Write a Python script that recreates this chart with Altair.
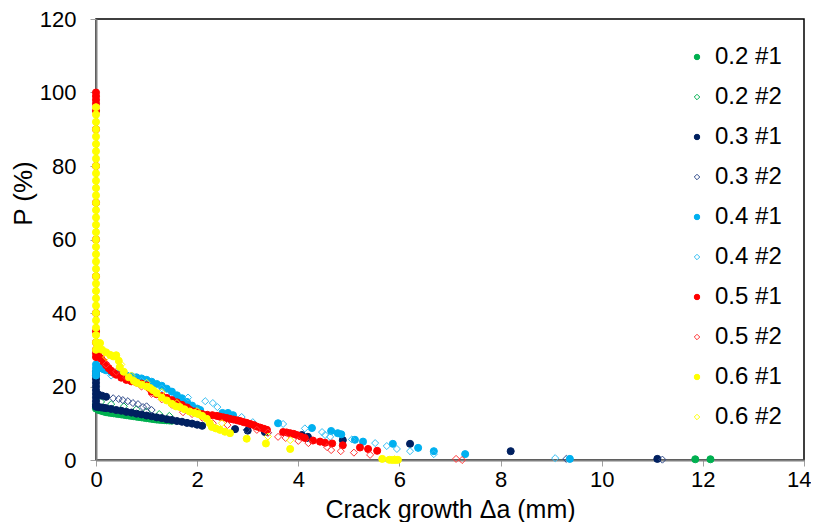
import altair as alt
import pandas as pd

series_names = ["0.2 #1", "0.2 #2", "0.3 #1", "0.3 #2", "0.4 #1", "0.4 #2",
                "0.5 #1", "0.5 #2", "0.6 #1", "0.6 #2"]
colors = ["#00B050", "#00B050", "#002060", "#2F4A8A", "#00B0F0", "#33BDF2",
          "#FF0000", "#FF3333", "#FFFF00", "#FFFF00"]
fills = ["#00B050", "transparent", "#002060", "transparent", "#00B0F0", "transparent",
         "#FF0000", "transparent", "#FFFF00", "transparent"]
shapes = ["circle", "diamond", "circle", "diamond", "circle", "diamond",
          "circle", "diamond", "circle", "diamond"]

x_ticks = [0, 2, 4, 6, 8, 10, 12, 14]
y_ticks = [0, 20, 40, 60, 80, 100, 120]

# 0.2 #1
x_02_1 = [0, 0, 0.05, 0.1, 0.15, 0.2, 0.25, 0.3, 0.35, 0.4, 0.45, 0.5, 0.55, 0.6, 0.65, 0.7,
          0.75, 0.8, 0.85, 0.9, 0.95, 1.0, 1.05, 1.1, 1.15, 1.2, 1.25, 1.3, 1.35, 1.4, 1.45, 1.5,
          11.85, 12.15]
y_02_1 = [15.0, 14.0, 13.6, 13.4, 13.2, 13.0, 12.9, 12.8, 12.7, 12.6, 12.5, 12.4, 12.3, 12.2, 12.1, 12.0,
          11.9, 11.8, 11.7, 11.6, 11.5, 11.4, 11.3, 11.2, 11.1, 11.0, 10.95, 10.9, 10.85, 10.8, 10.75, 10.7,
          0.2, 0.2]
# 0.2 #2
x_02_2 = [0.1, 0.3, 0.55, 0.8, 1.0, 1.25, 1.45]
y_02_2 = [15.8, 15.2, 14.6, 13.8, 13.2, 12.5, 12.0]
# 0.3 #1
x_03_1 = [0, 0, 0, 0, 0, 0, 0, 0, 0, 0, 0,
          0.05, 0.12, 0.2,
          0.05, 0.1, 0.15, 0.2, 0.3, 0.4, 0.5, 0.6, 0.7, 0.8, 0.9, 1.0, 1.1, 1.2, 1.3, 1.4,
          1.5, 1.6, 1.7, 1.8, 1.9, 2.0, 2.1,
          2.75, 3.0, 3.34, 4.07, 4.17, 4.19, 4.88, 6.21, 8.2, 11.1]
y_03_1 = [24, 23, 22, 21, 20, 19, 18, 17, 16, 15, 14.5,
          17.8, 17.5, 17.2,
          14.4, 14.3, 14.2, 14.1, 13.9, 13.6, 13.4, 13.1, 12.9, 12.6, 12.4, 12.1, 11.9, 11.6, 11.4, 11.1,
          10.9, 10.6, 10.4, 10.1, 9.9, 9.6, 9.3,
          8.4, 8.0, 7.6, 6.8, 6.0, 6.3, 5.4, 4.4, 2.4, 0.3]
# 0.3 #2
x_03_2 = [0.34, 0.45, 0.53, 0.63, 0.73, 0.83, 0.93, 1.0, 1.1, 2.98, 3.4, 9.3, 11.2]
y_03_2 = [16.8, 16.6, 16.3, 16.0, 15.5, 15.2, 14.4, 14.6, 13.6, 8.2, 7.4, 0.3, 0.1]
# 0.4 #1
x_04_1 = [0, 0, 0, 0, 0.05, 0.1, 0.15, 0.2, 0.3, 0.4, 0.5, 0.6, 0.7, 0.8, 0.9, 1.0, 1.1, 1.2,
          1.3, 1.4, 1.5, 1.6, 1.7, 1.8, 1.9, 2.0, 2.06, 2.5, 2.61, 2.71, 3.6, 4.27, 4.65, 4.78,
          4.85, 5.12, 5.28, 5.87, 6.37, 6.68, 7.3, 9.37]
y_04_1 = [23, 24, 25, 26, 25.3, 25.0, 24.7, 24.4, 23.9, 23.5, 23.2, 23.0, 22.8, 22.5, 22.2, 21.8, 21.3, 20.7,
          20.2, 19.4, 18.6, 17.6, 16.8, 15.8, 14.8, 14.0, 13.6, 12.8, 12.8, 12.2, 10.0, 8.7, 7.9, 7.3,
          7.0, 5.5, 5.0, 4.4, 3.3, 2.4, 1.6, 0.3]
# 0.4 #2
x_04_2 = [0.3, 0.6, 0.9, 1.3, 1.82, 2.16, 2.31, 2.4, 2.88, 3.1, 3.7, 4.13, 4.47, 4.53, 4.63, 5.06,
          5.52, 5.75, 5.95, 6.21, 6.68, 9.08]
y_04_2 = [23.0, 22.0, 21.5, 19.5, 17.0, 16.0, 15.5, 14.4, 11.7, 10.3, 9.8, 8.6, 7.6, 6.8, 6.3, 5.6,
          4.6, 3.8, 3.0, 2.4, 1.6, 0.5]
# 0.5 #1
x_05_1 = [0, 0, 0, 0, 0, 0, 0, 0, 0, 0, 0, 0, 0, 0, 0, 0,
          0.05, 0.1, 0.15, 0.2, 0.25, 0.3, 0.35, 0.4, 0.5, 0.6, 0.7, 0.8, 0.9, 1.0, 1.05, 1.1,
          1.2, 1.3, 1.4, 1.5, 1.6, 1.7, 1.8, 1.86, 1.95, 2.02, 2.1, 2.2, 2.3, 2.39, 2.45, 2.52,
          2.59, 2.65, 2.72, 2.79, 2.85, 2.92, 2.98, 3.05, 3.12, 3.18, 3.25, 3.32, 3.38, 3.7,
          3.77, 3.84, 3.91, 3.97, 4.05, 4.13, 4.29, 4.43, 4.53, 4.67, 4.88, 5.22, 5.38, 5.56]
y_05_1 = [28, 29, 30, 32, 35, 40, 50, 60, 70, 80, 90, 95, 97, 98, 99, 100,
          28.5, 27.6, 26.7, 25.8, 25.0, 24.3, 23.7, 23.2, 22.4, 21.8, 21.4, 21.1, 20.8, 20.3, 19.6, 18.6,
          17.9, 17.4, 16.9, 16.3, 15.7, 15.0, 14.3, 13.6, 13.2, 12.8, 12.5, 12.3, 12.2, 12.0, 11.8, 11.6,
          11.4, 11.2, 11.0, 10.8, 10.6, 10.3, 10.1, 9.8, 9.5, 9.1, 8.8, 8.5, 8.2, 7.6,
          7.5, 7.3, 7.1, 6.8, 6.4, 6.0, 5.3, 5.0, 4.7, 4.5, 4.0, 3.4, 3.0, 2.5]
# 0.5 #2
x_05_2 = [0.2, 0.4, 0.6, 0.9, 1.1, 1.3, 1.5, 1.72, 1.9, 2.1, 2.31, 2.6, 3.18, 3.4, 3.6, 3.75,
          4.0, 4.2, 4.57, 4.65, 4.84, 5.1, 5.42, 7.12, 7.24]
y_05_2 = [26.0, 24.0, 22.5, 20.0, 18.0, 16.5, 15.0, 13.0, 12.5, 11.5, 10.0, 9.5, 8.2, 7.5, 6.3, 6.0,
          5.2, 4.6, 3.5, 2.7, 2.4, 2.0, 1.4, 0.3, 0.0]
# 0.6 #1
x_06_1 = [0, 0, 0, 0, 0, 0, 0, 0, 0, 0, 0, 0, 0, 0, 0, 0, 0, 0, 0, 0, 0, 0, 0, 0, 0, 0, 0, 0,
          0, 0, 0, 0, 0, 0,
          0.03, 0.08, 0.12, 0.2, 0.28, 0.34, 0.4, 0.45, 0.47, 0.55, 0.65, 0.75, 0.81, 0.9, 1.0,
          1.07, 1.13, 1.2, 1.3, 1.4, 1.5, 1.58, 1.66, 1.75, 1.85, 1.95, 2.02, 2.1, 2.19, 2.25,
          2.29, 2.37, 2.45, 2.55, 2.65, 2.98, 3.36, 3.84, 5.66, 5.8, 5.86, 5.92, 5.97]
y_06_1 = [30, 32, 34, 36, 38, 40, 42, 44, 46, 48, 50, 52, 54, 56, 58, 60, 62, 64, 66, 68, 70, 72, 74, 76,
          78, 80, 82, 84, 86, 88, 90, 92, 94, 96,
          31.0, 31.8, 30.0, 29.3, 28.6, 28.2, 28.5, 27.0, 25.3, 24.0, 22.5, 21.5, 21.0, 20.5, 20.0,
          19.6, 19.0, 18.2, 17.0, 16.2, 15.3, 14.6, 14.4, 13.8, 13.2, 12.8, 12.5, 12.0, 11.2, 10.0,
          9.0, 8.6, 8.2, 7.7, 7.3, 5.8, 4.5, 3.0, 0.3, 0.05, 0.0, 0.0, 0.05]
# 0.6 #2
x_06_2 = [0.2, 0.5, 0.7, 1.0, 1.3, 1.6, 2.0, 2.49, 3.4, 3.84, 5.9]
y_06_2 = [28.0, 26.0, 23.0, 21.0, 18.5, 15.5, 13.3, 10.0, 6.4, 5.4, 0.2]

all_x = [x_02_1, x_02_2, x_03_1, x_03_2, x_04_1, x_04_2, x_05_1, x_05_2, x_06_1, x_06_2]
all_y = [y_02_1, y_02_2, y_03_1, y_03_2, y_04_1, y_04_2, y_05_1, y_05_2, y_06_1, y_06_2]

rows = []
for name, xs, ys in zip(series_names, all_x, all_y):
    for xv, yv in zip(xs, ys):
        rows.append({"series": name, "x": xv, "y": yv})
df = pd.DataFrame(rows)

legend = alt.Legend(
    title=None, orient="none", legendX=589, legendY=26,
    labelFontSize=24, labelFont="Liberation Sans", labelColor="#000000",
    symbolSize=30, symbolStrokeWidth=1, rowPadding=16, labelOffset=6,
)

chart = alt.Chart(df).mark_point(size=50, strokeWidth=1, opacity=1).encode(
    x=alt.X("x:Q", scale=alt.Scale(domain=[0, 14], nice=False),
            axis=alt.Axis(values=x_ticks, title="Crack growth Δa (mm)", grid=False,
                          labelFontSize=22, labelPadding=3, tickSize=6, labelFlush=False,
                          labelAlign={"condition": {"test": "datum.value == 14", "value": "right"},
                                      "value": "center"},
                          labelOffset={"condition": {"test": "datum.value == 14", "value": 7},
                                       "value": 0},
                          titleFontSize=25, titleY=57, titleBaseline="alphabetic")),
    y=alt.Y("y:Q", scale=alt.Scale(domain=[0, 120], nice=False),
            axis=alt.Axis(values=y_ticks, title="P (%)", grid=False,
                          labelFontSize=22, labelPadding=14, tickSize=6, labelFlush=False,
                          titleX=-73, titleY=174, titleAlign="center", titleBaseline="middle")),
    color=alt.Color("series:N", scale=alt.Scale(domain=series_names, range=colors), legend=legend),
    fill=alt.Fill("series:N", scale=alt.Scale(domain=series_names, range=fills), legend=legend),
    shape=alt.Shape("series:N", scale=alt.Scale(domain=series_names, range=shapes), legend=legend),
).properties(
    width=708, height=441,
    autosize=alt.AutoSizeParams(type="none"),
    padding={"left": 88, "top": 11, "right": 7, "bottom": 62},
).configure_view(
    stroke="#000000", strokeWidth=1.5
).configure_axis(
    labelFont="Liberation Sans", titleFont="Liberation Sans",
    labelColor="#000000", titleColor="#000000",
    titleFontSize=26, titleFontWeight="normal",
    domainColor="#808080", domainWidth=2, tickColor="#a0a0a0", tickWidth=1,
)

chart.save("out.html", embed_options={"renderer": "svg", "actions": False})
